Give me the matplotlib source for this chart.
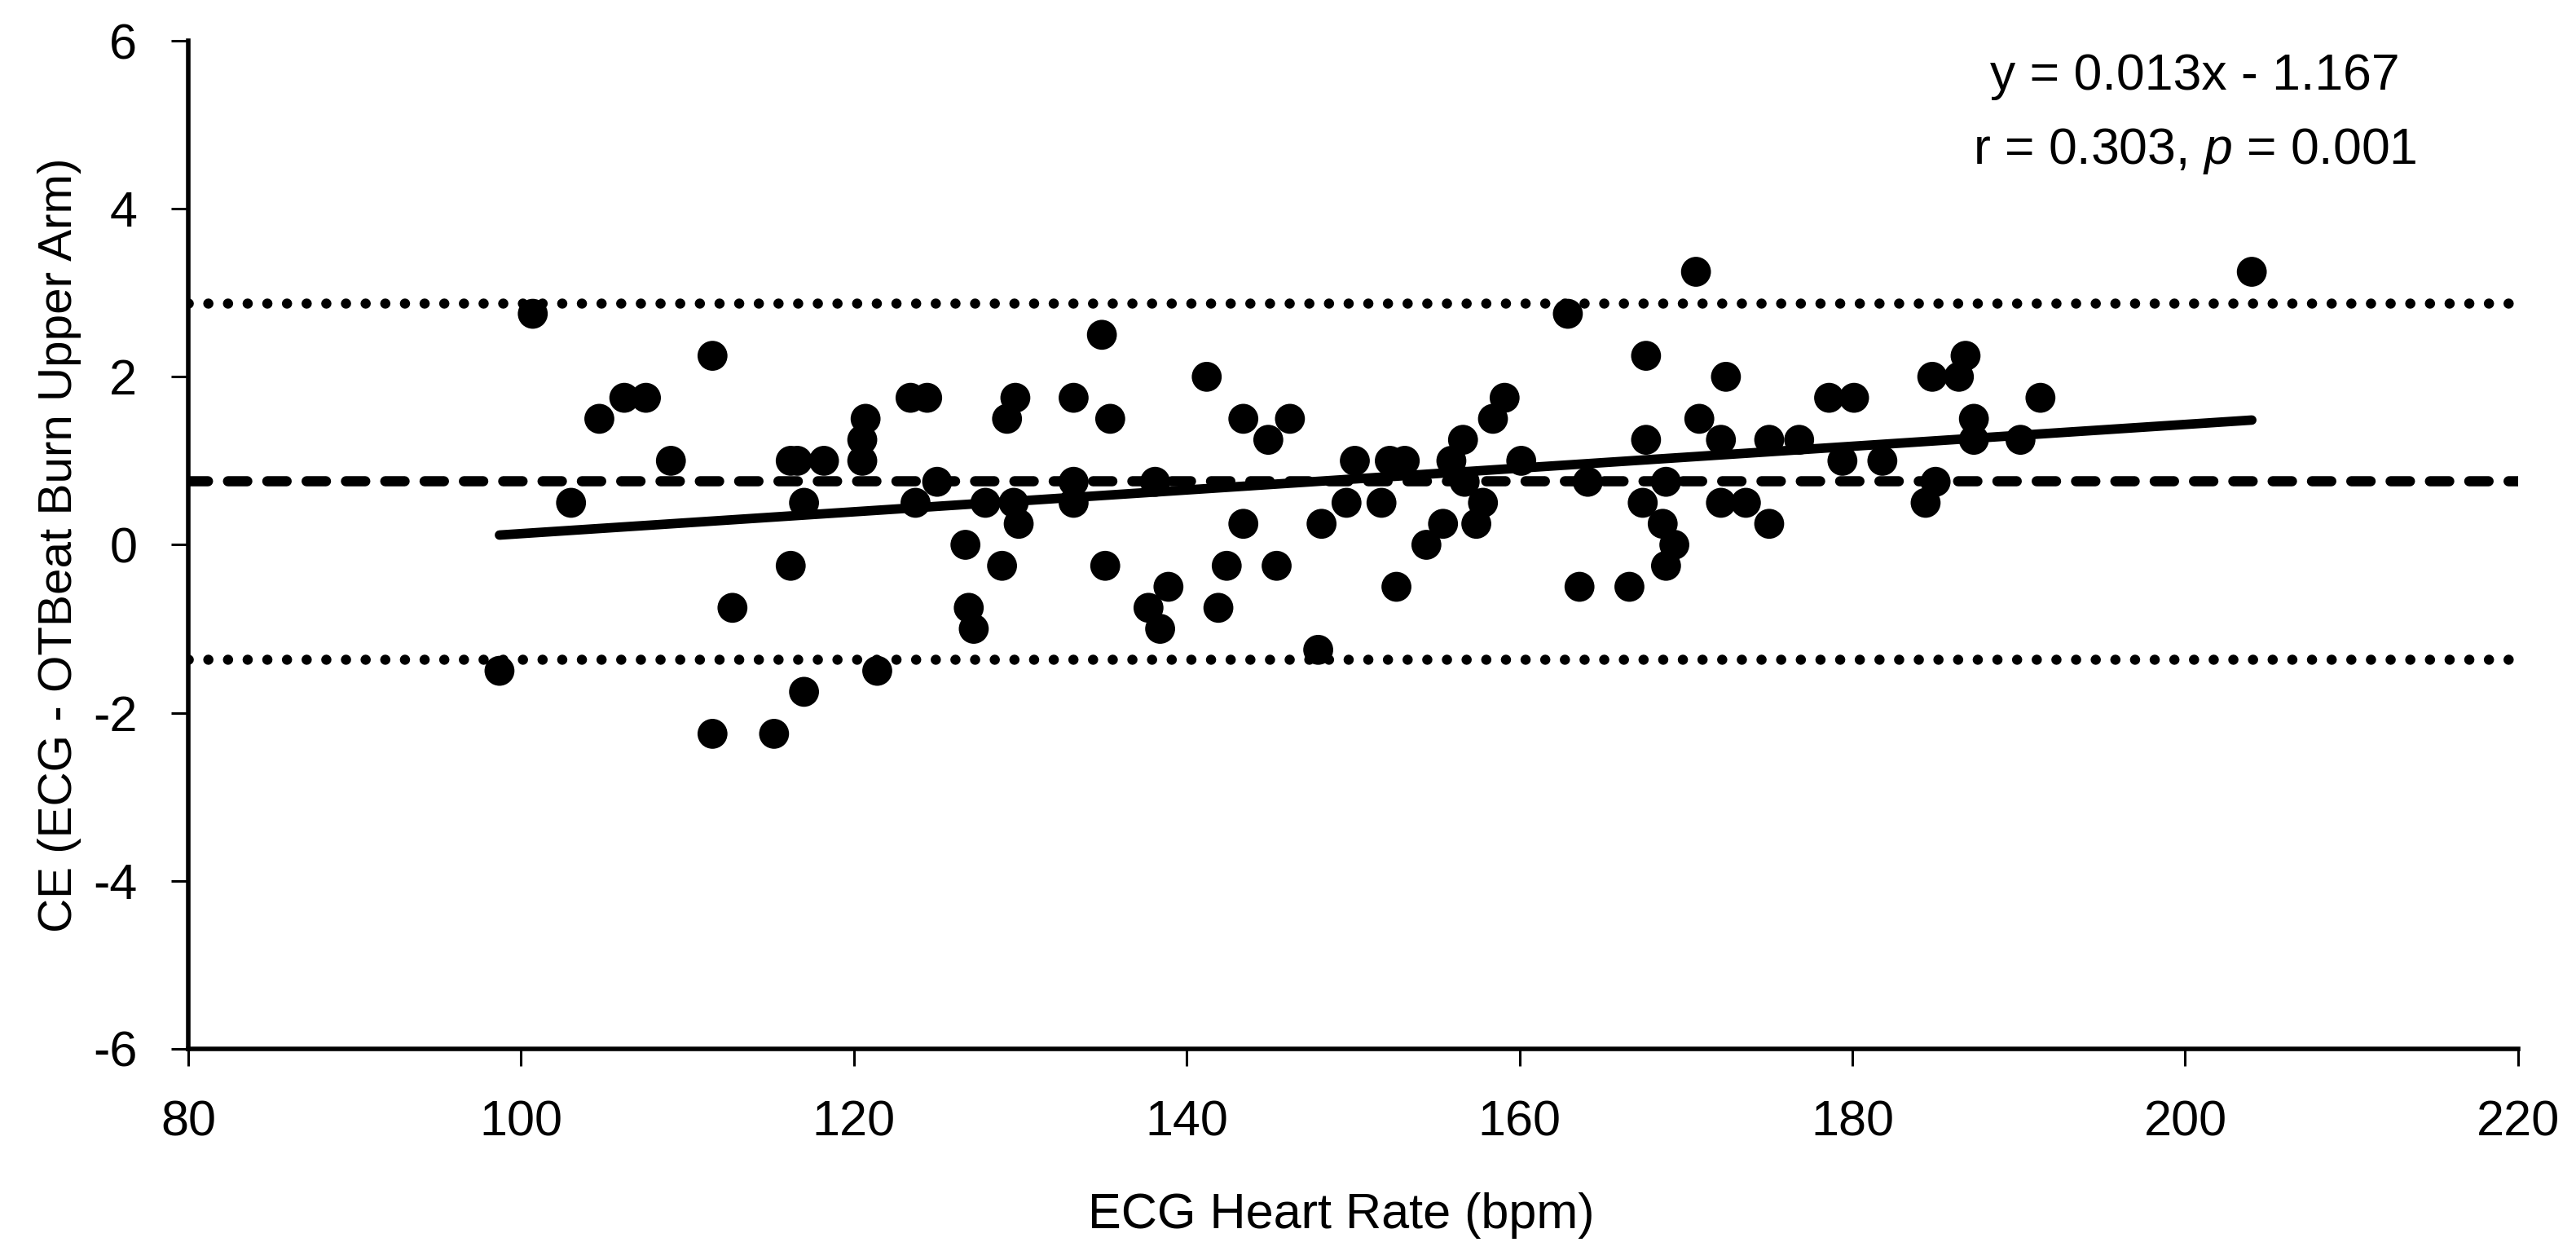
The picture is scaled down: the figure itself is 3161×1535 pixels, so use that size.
import matplotlib
matplotlib.use("Agg")
import matplotlib.pyplot as plt
import numpy as np

# ECG heart rate (bpm) and CE (ECG - OTBeat Burn Upper Arm)
hr = [100.7, 111.5, 104.7, 106.2, 107.5, 109.0, 103.0, 116.2, 116.6, 118.2,
      120.7, 120.5, 120.5, 117.0, 116.2, 112.7, 98.7, 121.4, 117.0, 111.5,
      115.2,
      134.9, 141.2, 123.4, 124.4, 129.7, 129.2, 133.2, 135.4, 143.4, 144.9,
      146.2, 125.0, 133.2, 138.1, 123.7, 127.9, 129.6, 133.2, 129.9, 126.7,
      128.9, 135.1, 143.4, 148.1, 142.4, 145.4, 138.9, 137.7, 138.4, 141.9,
      126.9, 127.2, 147.9,
      170.6, 162.9, 167.6, 172.4, 159.1, 158.4, 170.8, 156.6, 167.6, 172.1,
      175.0, 150.1, 152.2, 153.1, 155.9, 160.1, 156.7, 164.1, 168.8, 149.6,
      151.7, 157.8, 167.4, 172.1, 173.6, 155.4, 157.4, 168.6, 175.0, 154.4,
      169.3, 168.8, 152.6, 163.6, 166.6,
      204.0, 186.8, 184.8, 186.4, 178.6, 180.1, 191.3, 187.3, 176.8, 187.3,
      190.1, 179.4, 181.8, 185.0, 184.4]
ce = [2.75, 2.25, 1.5, 1.75, 1.75, 1.0, 0.5, 1.0, 1.0, 1.0,
      1.5, 1.25, 1.0, 0.5, -0.25, -0.75, -1.5, -1.5, -1.75, -2.25,
      -2.25,
      2.5, 2.0, 1.75, 1.75, 1.75, 1.5, 1.75, 1.5, 1.5, 1.25,
      1.5, 0.75, 0.75, 0.75, 0.5, 0.5, 0.5, 0.5, 0.25, 0.0,
      -0.25, -0.25, 0.25, 0.25, -0.25, -0.25, -0.5, -0.75, -1.0, -0.75,
      -0.75, -1.0, -1.25,
      3.25, 2.75, 2.25, 2.0, 1.75, 1.5, 1.5, 1.25, 1.25, 1.25,
      1.25, 1.0, 1.0, 1.0, 1.0, 1.0, 0.75, 0.75, 0.75, 0.5,
      0.5, 0.5, 0.5, 0.5, 0.5, 0.25, 0.25, 0.25, 0.25, 0.0,
      0.0, -0.25, -0.5, -0.5, -0.5,
      3.25, 2.25, 2.0, 2.0, 1.75, 1.75, 1.75, 1.5, 1.25, 1.25,
      1.25, 1.0, 1.0, 0.75, 0.5]

mean_bias = 0.76
loa_upper = 2.88
loa_lower = -1.36
slope = 0.013
intercept = -1.167

xticks = [80, 100, 120, 140, 160, 180, 200, 220]
yticks = [-6, -4, -2, 0, 2, 4, 6]

plt.rcParams['font.family'] = ['Liberation Sans', 'DejaVu Sans']
plt.rcParams['axes.unicode_minus'] = False
plt.rcParams['mathtext.fontset'] = 'custom'
plt.rcParams['mathtext.rm'] = 'Liberation Sans'
plt.rcParams['mathtext.it'] = 'Liberation Sans:italic'

fig = plt.figure(figsize=(15.805, 7.675), dpi=200)
ax = fig.add_axes([0.0731, 0.1616, 0.9044, 0.8058])

ax.axhline(loa_upper, color='black', lw=4.5, linestyle=(0, (0.01, 1.92)),
           dash_capstyle='round', zorder=2)
ax.axhline(loa_lower, color='black', lw=4.5, linestyle=(0, (0.01, 1.92)),
           dash_capstyle='round', zorder=2)
ax.axhline(mean_bias, color='black', lw=4.5, linestyle=(0, (1.9, 1.96)),
           dash_capstyle='round', zorder=2)

ax.scatter(hr, ce, s=175, color='black', edgecolors='none', zorder=3)

xl = np.array([min(hr), max(hr)])
ax.plot(xl, slope * xl + intercept, color='black', lw=4.2,
        solid_capstyle='round', zorder=4)

ax.set_xlim(80, 220)
ax.set_ylim(-6, 6)
ax.set_xticks(xticks)
ax.set_yticks(yticks)
ax.tick_params(axis='both', direction='out', length=7.6, width=1.1,
               pad=15, labelsize=22)
for s in ['top', 'right']:
    ax.spines[s].set_visible(False)
for s in ['left', 'bottom']:
    ax.spines[s].set_linewidth(2)

ax.set_xlabel('ECG Heart Rate (bpm)', fontsize=22)
ax.set_ylabel('CE (ECG - OTBeat Burn Upper Arm)', fontsize=21)
ax.xaxis.set_label_coords(0.495, -0.142)
ax.yaxis.set_label_coords(-0.046, 0.5)

fig.text(0.852, 0.939, 'y = 0.013x - 1.167', ha='center', va='center', fontsize=22.5)
fig.text(0.852, 0.879, r'r = 0.303, $\it{p}$ = 0.001', ha='center', va='center',
         fontsize=22.5)

fig.savefig('out.png', dpi=200)
